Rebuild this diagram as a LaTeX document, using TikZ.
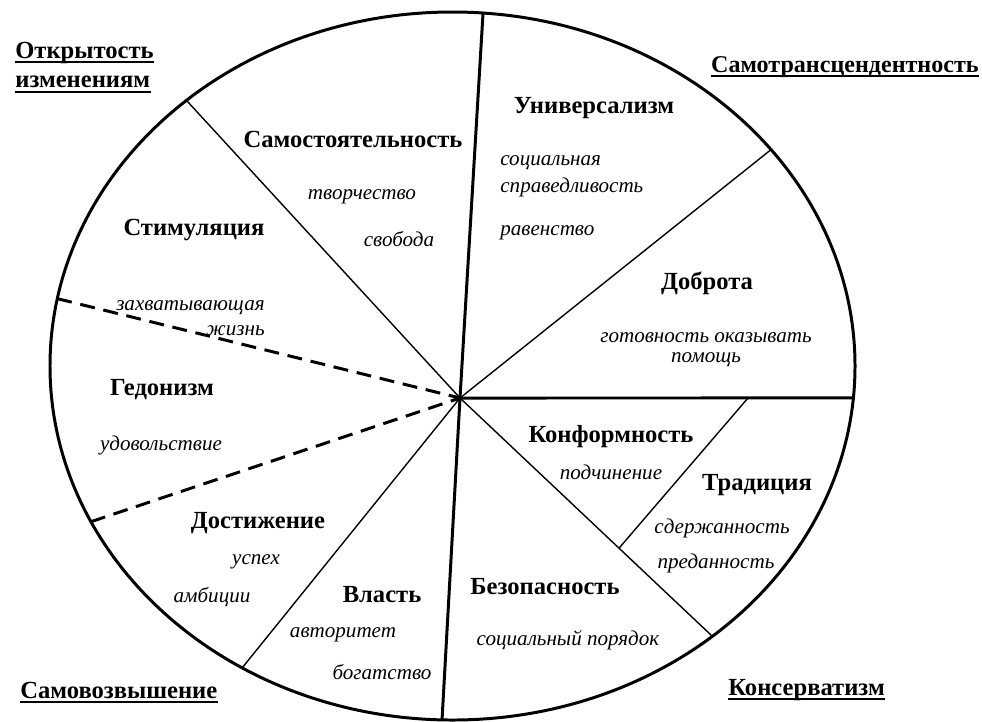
\documentclass[tikz,border=0pt]{standalone}
\usepackage{fontspec}
\setmainfont{Liberation Serif}
\usetikzlibrary{intersections,calc}
\begin{document}
\begin{tikzpicture}[x=0.02cm,y=-0.02cm,
  val/.style={font=\bfseries\fontsize{14}{16}\selectfont, inner sep=0pt},
  sub/.style={font=\itshape\fontsize{12}{14}\selectfont, inner sep=0pt},
  head/.style={font=\bfseries\fontsize{14}{16}\selectfont, inner sep=0pt, anchor=west},
  uline/.style={line width=1.1pt},
  rim/.style={line width=1.7pt},
  major/.style={line width=1.7pt},
  minor/.style={line width=0.8pt},
  split/.style={line width=1.7pt, dash pattern=on 8.5pt off 5pt}]
\useasboundingbox (0,0) rectangle (982,721);
\coordinate (O) at (460,398);
\path[name path=rim] (452.5,366) ellipse [x radius=402.5, y radius=354];
% rays to the rim
\path[name path=ra] (O) -- ($(O)!1.3!(483,13)$);
\path[name path=rb] (O) -- ($(O)!1.3!(442,720)$);
\path[name path=rc] (O) -- ($(O)!1.3!(855,398)$);
\path[name path=rd] (O) -- ($(O)!1.3!(768,152)$);
\path[name path=re] (O) -- ($(O)!1.3!(188,102)$);
\path[name path=rf] (O) -- ($(O)!1.3!(63,300)$);
\path[name path=rg] (O) -- ($(O)!1.3!(90,522)$);
\path[name path=rh] (O) -- ($(O)!1.3!(242,668)$);
\path[name path=ri] (O) -- ($(O)!1.3!(712,636)$);
\path[name intersections={of=rim and ra, by=A}];
\path[name intersections={of=rim and rb, by=B}];
\path[name intersections={of=rim and rc, by=C}];
\path[name intersections={of=rim and rd, by=D}];
\path[name intersections={of=rim and re, by=E}];
\path[name intersections={of=rim and rf, by=F}];
\path[name intersections={of=rim and rg, by=G}];
\path[name intersections={of=rim and rh, by=H}];
\path[name intersections={of=rim and ri, by=I}];
\coordinate (K) at (748,398);
\coordinate (J) at ($(O)!0.63!(I)$);
% spokes
\draw[minor] (O) -- (D);
\draw[minor] (O) -- (E);
\draw[minor] (O) -- (H);
\draw[minor] (O) -- (I);
\draw[minor] (K) -- (J);
\draw[split] (F) -- (O);
\draw[split] (G) -- (O);
\draw[major] (O) -- (A);
\draw[major] (O) -- (B);
\draw[major] (O) -- (C);
\draw[rim] (452.5,366) ellipse [x radius=402.5, y radius=354];
% values
\node[val] (v1) at (353,139) {Самостоятельность};
\node[val] (v2) at (594,108) {Универсализм};
\node[val] (v3) at (194,230) {Стимуляция};
\node[val] (v4) at (707,283) {Доброта};
\node[val] (v5) at (162,390) {Гедонизм};
\node[val] (v6) at (611,437) {Конформность};
\node[val] (v7) at (757,485) {Традиция};
\node[val] (v8) at (258,523) {Достижение};
\node[val] (v9) at (382,595) {Власть};
\node[val] (v10) at (545,587) {Безопасность};
% sub-values
\node[sub] (s1) at (362,197) {творчество};
\node[sub] (s2) at (399,239) {свобода};
\node[sub, anchor=west] (s3) at (500,163) {социальная};
\node[sub, anchor=west] (s4) at (500,187) {справедливость};
\node[sub, anchor=west] (s5) at (500,233) {равенство};
\node[sub, anchor=east] (s6) at (265,308) {захватывающая};
\node[sub, anchor=east] (s7) at (265,331) {жизнь};
\node[sub] (s8) at (161,445) {удовольствие};
\node[sub] (s9) at (706,338) {готовность оказывать};
\node[sub] (s10) at (706,360) {помощь};
\node[sub] (s11) at (611,472) {подчинение};
\node[sub] (s12) at (722,528) {сдержанность};
\node[sub] (s13) at (716,563) {преданность};
\node[sub] (s14) at (256,562) {успех};
\node[sub] (s15) at (212,597) {амбиции};
\node[sub] (s16) at (343,635) {авторитет};
\node[sub] (s17) at (382,672) {богатство};
\node[sub] (s18) at (568,640) {социальный порядок};
% headings
\node[head] (h1) at (15,53) {Открытость};
\node[head] (h2) at (15,82) {изменениям};
\node[head, anchor=east, font=\bfseries\fontsize{13.7}{16}\selectfont] (h3) at (979,67) {Самотрансцендентность};
\node[head] (h4) at (20,690) {Самовозвышение};
\node[head] (h5) at (728,690) {Консерватизм};
\foreach \h in {h1,h2,h3,h4,h5}
  \draw[uline] ([yshift=-2.2pt]\h.base west) -- ([yshift=-2.2pt]\h.base east);
\end{tikzpicture}
\end{document}
